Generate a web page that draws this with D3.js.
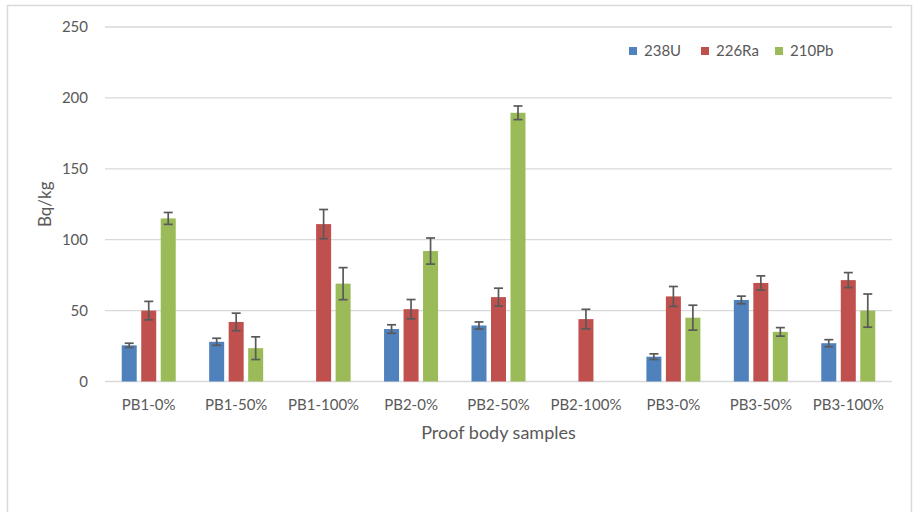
<!DOCTYPE html>
<html>
<head>
<meta charset="utf-8">
<script src="https://cdn.jsdelivr.net/npm/d3@7"></script>
<style>
  html, body { margin: 0; padding: 0; background: #fff; }
  svg { display: block; font-family: Lato, "Open Sans", sans-serif; }
</style>
</head>
<body>
<svg id="chart" width="913" height="512"></svg>
<script>
// Sample categories and activity concentrations (Bq/kg) with their uncertainties
const categories = ["PB1-0%", "PB1-50%", "PB1-100%", "PB2-0%", "PB2-50%", "PB2-100%", "PB3-0%", "PB3-50%", "PB3-100%"];
const seriesNames = ["238U", "226Ra", "210Pb"];
const seriesColors = ["#4F81BD", "#C0504D", "#9BBB59"];

const u238  = [25.5, 28, null, 37, 39.5, null, 17.5, 57.5, 27];
const u238Err  = [1.5, 2.5, null, 3, 2.5, null, 2, 2.7, 2.5];
const ra226 = [50, 42, 111, 51, 59.5, 44, 60, 69.5, 71.5];
const ra226Err = [6.5, 6.2, 10.3, 6.8, 6.3, 6.9, 7, 5, 5.3];
const pb210 = [115, 23.5, 69, 92, 189.5, null, 45, 35, 50];
const pb210Err = [4.2, 8, 11.3, 9.2, 4.8, null, 8.8, 3, 11.7];

const yTicks = [0, 50, 100, 150, 200, 250];

const values = [u238, ra226, pb210];
const errors = [u238Err, ra226Err, pb210Err];

const svg = d3.select("#chart");

// outer frame
svg.append("rect")
  .attr("x", 7.5).attr("y", 5.5)
  .attr("width", 904).attr("height", 520)
  .attr("fill", "none").attr("stroke", "#D9D9D9").attr("stroke-width", 1.5);

const plot = { left: 105, right: 892, top: 27, bottom: 381.5 };

const x0 = d3.scaleBand().domain(categories).range([plot.left, plot.right]).padding(0);
const y = d3.scaleLinear().domain([0, 250]).range([plot.bottom, plot.top]);

const barStep = 19.5, barW = 15;

// horizontal gridlines
svg.append("g").selectAll("line").data(yTicks).join("line")
  .attr("x1", plot.left).attr("x2", plot.right)
  .attr("y1", d => y(d)).attr("y2", d => y(d))
  .attr("stroke", "#D9D9D9").attr("stroke-width", 1.3);

// y tick labels
svg.append("g").selectAll("text").data(yTicks).join("text")
  .attr("x", 88).attr("y", d => y(d))
  .attr("dy", "0.36em")
  .attr("text-anchor", "end")
  .attr("font-size", 15)
  .attr("fill", "#595959")
  .text(d => d);

// x category labels
svg.append("g").selectAll("text").data(categories).join("text")
  .attr("x", d => x0(d) + x0.bandwidth() / 2)
  .attr("y", 405)
  .attr("dy", "0.36em")
  .attr("text-anchor", "middle")
  .attr("font-size", 15)
  .attr("fill", "#595959")
  .text(d => d);

// axis titles
svg.append("text")
  .attr("x", (plot.left + plot.right) / 2).attr("y", 433)
  .attr("dy", "0.36em").attr("text-anchor", "middle")
  .attr("font-size", 18).attr("fill", "#595959")
  .text("Proof body samples");

svg.append("text")
  .attr("transform", `translate(45,${(plot.top + plot.bottom) / 2}) rotate(-90)`)
  .attr("dy", "0.36em").attr("text-anchor", "middle")
  .attr("font-size", 17).attr("fill", "#595959")
  .text("Bq/kg");

// bars and error bars
const barData = [];
seriesNames.forEach((s, si) => {
  categories.forEach((c, ci) => {
    const v = values[si][ci];
    if (v == null) return;
    barData.push({ s: si, c, v, e: errors[si][ci] });
  });
});

const cx = d => x0(d.c) + x0.bandwidth() / 2 + (d.s - 1) * barStep;

svg.append("g").selectAll("rect").data(barData).join("rect")
  .attr("x", d => cx(d) - barW / 2)
  .attr("y", d => y(d.v))
  .attr("width", barW)
  .attr("height", d => y(0) - y(d.v))
  .attr("fill", d => seriesColors[d.s]);

const eb = svg.append("g").attr("stroke", "#595959").attr("stroke-width", 1.7).attr("fill", "none");
eb.selectAll("line.v").data(barData).join("line").attr("class", "v")
  .attr("x1", cx).attr("x2", cx)
  .attr("y1", d => y(d.v + d.e)).attr("y2", d => y(d.v - d.e));
eb.selectAll("line.t").data(barData).join("line").attr("class", "t")
  .attr("x1", d => cx(d) - 4.5).attr("x2", d => cx(d) + 4.5)
  .attr("y1", d => y(d.v + d.e)).attr("y2", d => y(d.v + d.e));
eb.selectAll("line.b").data(barData).join("line").attr("class", "b")
  .attr("x1", d => cx(d) - 4.5).attr("x2", d => cx(d) + 4.5)
  .attr("y1", d => y(d.v - d.e)).attr("y2", d => y(d.v - d.e));

// legend
const legendX = [629, 701, 775];
const legend = svg.append("g").selectAll("g").data(seriesNames).join("g")
  .attr("transform", (d, i) => `translate(${legendX[i]},51)`);
legend.append("rect")
  .attr("x", 0).attr("y", -4).attr("width", 8).attr("height", 8)
  .attr("fill", (d, i) => seriesColors[i]);
legend.append("text")
  .attr("x", 15).attr("y", 0).attr("dy", "0.36em")
  .attr("font-size", 15).attr("fill", "#595959")
  .text(d => d);
</script>
</body>
</html>
